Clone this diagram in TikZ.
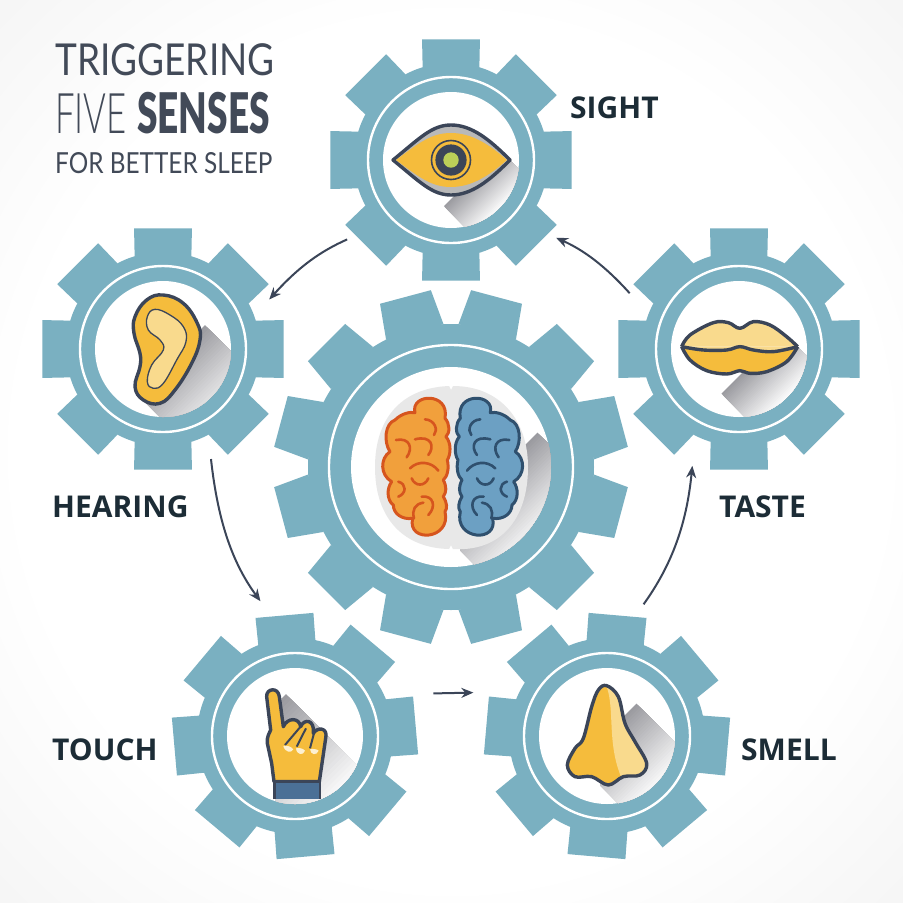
\documentclass[tikz,border=0pt]{standalone}
\usepackage{fontspec}
\usetikzlibrary{arrows.meta}
\setmainfont{Open Sans}
\newfontfamily\titlefont[FakeStretch=.84]{Lato}
\newfontfamily\thinfont[FakeStretch=.62]{Lato Light}
\newfontfamily\heavyfont[FakeStretch=.66]{Lato Black}
\definecolor{gearblue}{RGB}{122,176,193}
\definecolor{inkdark}{RGB}{59,69,88}
\definecolor{labeldark}{RGB}{28,44,54}
\definecolor{titlegrey}{RGB}{66,74,88}
\definecolor{iconyellow}{RGB}{245,188,60}
\definecolor{iconlight}{RGB}{249,218,141}
\definecolor{iconlime}{RGB}{187,207,88}
\definecolor{cuffblue}{RGB}{75,112,150}
\definecolor{brainorange}{RGB}{241,160,60}
\definecolor{brainred}{RGB}{214,85,30}
\definecolor{brainblue}{RGB}{108,160,195}
\definecolor{brainnavy}{RGB}{47,80,110}
\definecolor{bggrey}{RGB}{216,216,216}
\definecolor{shadowgrey}{RGB}{155,155,160}
\pgfdeclareradialshading{bgshade}{\pgfpoint{0bp}{0bp}}{color(0bp)=(white); color(24bp)=(white); color(71bp)=(bggrey); color(100bp)=(bggrey)}
\tikzset{
    gearnode/.style={circle, minimum size=234pt, inner sep=0pt},
    bignode/.style={circle, minimum size=354pt, inner sep=0pt},
    sense/.style={font=\bfseries\fontsize{30}{30}\selectfont, text=labeldark, anchor=base west, inner sep=0pt},
    flow/.style={-{Stealth[length=12pt,width=10pt]}, inkdark, line width=2pt},
    iconline/.style={draw=inkdark, line width=3.4pt, line join=round},
    fold/.style={line width=2.6pt, line cap=round},
    titletext/.style={anchor=base west, inner sep=0pt, text=titlegrey}
}
% one gear: x, y, turn, teeth, half tip, half root, tip r, root r, ring r
\newcommand{\gearwheel}[9]{
    \begin{scope}[shift={(#1,#2)}]
        \foreach \a in {1,...,#4} {
            \pgfmathsetmacro{\t}{#3+\a*360/#4}
            \fill[gearblue] (\t-#6:#8) -- (\t-#5:#7) -- (\t+#5:#7) -- (\t+#6:#8) -- cycle;
        }
        \fill[gearblue] (0,0) circle (#8);
        \draw[white, line width=2.4pt] (0,0) circle (#9);
    \end{scope}
}
% shadow behind an icon: disc node, disc r, polygon, start point, length
\newcommand{\iconshadow}[5]{
    \begin{scope}
        \clip (#1.center) circle (#2);
        \clip #3;
        \begin{scope}[shift={#4}, rotate=-45]
            \foreach \k in {0,...,30} {
                \pgfmathsetmacro{\p}{100-\k*100/30}
                \fill[shadowgrey!\p!white] ({\k*#5/30},-300) rectangle (300,300);
            }
        \end{scope}
    \end{scope}
}
\newcommand{\brainhalf}[2]{
    \filldraw[fill=#1, draw=#2, line width=3pt, line join=round] (165,98) .. controls (150,40) and (270,35) .. (255,115) .. controls (270,130) and (270,160) .. (258,170) .. controls (275,190) and (272,225) .. (262,240) .. controls (268,265) and (262,290) .. (250,300) .. controls (260,320) and (260,335) .. (250,350) .. controls (262,370) and (262,385) .. (255,395) .. controls (275,480) and (140,490) .. (158,415) .. controls (125,420) and (100,400) .. (100,375) .. controls (80,360) and (80,325) .. (95,305) .. controls (60,285) and (60,235) .. (90,215) .. controls (70,185) and (75,130) .. (105,120) .. controls (125,100) and (150,95) .. (165,98) -- cycle;
    \draw[fold, #2] (195,118) .. controls (225,120) and (235,150) .. (222,165);
    \draw[fold, #2] (165,178) .. controls (215,165) and (225,200) .. (205,225);
    \draw[fold, #2] (108,180) .. controls (150,172) and (160,205) .. (140,232);
    \draw[fold, #2] (150,265) .. controls (175,240) and (215,245) .. (235,272);
    \draw[fold, #2] (155,295) .. controls (165,320) and (195,320) .. (205,295);
    \draw[fold, #2] (115,305) .. controls (140,312) and (140,340) .. (115,350);
    \draw[fold, #2] (185,350) .. controls (220,345) and (230,380) .. (205,405);
    \draw[fold, #2] (190,368) .. controls (165,372) and (155,390) .. (162,415);
}
\begin{document}
\begin{tikzpicture}[x=1pt, y=-1pt]
    \useasboundingbox (0,0) rectangle (903,903);
    \shade[shading=bgshade] (0,0) rectangle (903,903);

    % Gears
    \gearwheel{451}{160}{0}{8}{13.5}{17}{124}{97}{83}
    \gearwheel{163}{349}{0}{8}{13.5}{17}{124}{97}{83}
    \gearwheel{739}{349}{0}{8}{13.5}{17}{124}{97}{83}
    \gearwheel{295}{736}{-5}{8}{13.5}{17}{124.5}{98}{83}
    \gearwheel{607}{736}{5}{8}{13.5}{17}{124.5}{98}{83}
    \gearwheel{451}{467}{15}{12}{8.5}{12}{178}{143}{122}

    \node[gearnode] (sight) at (451,160) {};
    \node[gearnode] (hearing) at (163,349) {};
    \node[gearnode] (taste) at (739,349) {};
    \node[gearnode] (touch) at (295,736) {};
    \node[gearnode] (smell) at (607,736) {};
    \node[bignode] (brain) at (451,467) {};
    \fill[white] (sight.center) circle (68);
    \fill[white] (hearing.center) circle (68);
    \fill[white] (taste.center) circle (68);
    \fill[white] (touch.center) circle (68);
    \fill[white] (smell.center) circle (68);
    \fill[white] (brain.center) circle (100);

    % Shadows
    \iconshadow{sight}{68}{(510,160) -- (590,240) -- (505,267) -- (425,187) -- cycle}{(475,175)}{42}
    \iconshadow{hearing}{68}{(183,303) -- (263,383) -- (223,480) -- (143,400) -- cycle}{(200,330)}{78}
    \iconshadow{taste}{68}{(798,347) -- (878,427) -- (770,442) -- (690,362) -- cycle}{(750,365)}{50}
    \iconshadow{touch}{68}{(282,690) -- (382,790) -- (330,850) -- (275,800) -- cycle}{(290,690)}{110}
    \iconshadow{smell}{68}{(620,687) -- (700,767) -- (680,865) -- (600,785) -- cycle}{(640,700)}{75}
    \iconshadow{brain}{100}{(520,415) -- (600,495) -- (540,630) -- (460,550) -- cycle}{(500,470)}{75}

    % Eye
    \filldraw[fill=gray!55, draw=inkdark, line width=3.4pt, line join=round] (393,160) .. controls (420,138) and (432,125) .. (451,125) .. controls (472,125) and (490,140) .. (510,160) .. controls (490,180) and (472,195) .. (451,195) .. controls (432,195) and (420,182) .. (393,160) -- cycle;
    \fill[iconyellow] (396,160) .. controls (420,142) and (432,133) .. (451,133) .. controls (472,133) and (490,145) .. (507,160) .. controls (490,175) and (472,187) .. (451,187) .. controls (432,187) and (420,178) .. (396,160) -- cycle;
    \draw[inkdark, line width=1.6pt] (451,160) circle (19.5);
    \fill[inkdark] (451,160) circle (15.6);
    \fill[iconlime] (451,160) circle (7.7);

    % Ear
    \begin{scope}[shift={(110,280)}, x=.3333pt, y=-.3333pt]
        \filldraw[fill=iconyellow, iconline] plot[smooth cycle, tension=.7] coordinates {(75,110) (110,60) (160,45) (220,70) (262,130) (270,180) (245,250) (195,330) (150,370) (100,360) (75,320) (90,260) (90,220) (72,160)};
        \filldraw[fill=iconlight, draw=inkdark, line width=1.3pt] plot[smooth cycle, tension=.7] coordinates {(112,110) (135,88) (180,105) (220,140) (228,185) (200,240) (160,310) (130,325) (112,305) (125,255) (160,210) (150,180) (115,150)};
    \end{scope}

    % Lips
    \begin{scope}[shift={(670,300)}, x=.3333pt, y=-.3333pt]
        \fill[iconlight] plot[smooth, tension=.6] coordinates {(35,140) (60,105) (130,68) (175,68) (210,85) (250,65) (300,75) (350,110) (383,140)} -- cycle;
        \fill[iconlight] (35,140) -- (383,140) -- (310,155) -- (100,150) -- cycle;
        \fill[iconyellow] plot[smooth, tension=.6] coordinates {(35,140) (100,150) (170,150) (210,140) (250,150) (310,155) (383,140)} -- plot[smooth, tension=.6] coordinates {(383,140) (350,185) (290,215) (240,220) (210,212) (170,222) (110,212) (60,180) (35,140)} -- cycle;
        \draw[iconline] plot[smooth, tension=.6] coordinates {(35,140) (60,105) (130,68) (175,68) (210,85) (250,65) (300,75) (350,110) (383,140)};
        \draw[iconline] plot[smooth, tension=.6] coordinates {(383,140) (350,185) (290,215) (240,220) (210,212) (170,222) (110,212) (60,180) (35,140)};
        \draw[iconline] plot[smooth, tension=.6] coordinates {(35,140) (100,150) (170,150) (210,140) (250,150) (310,155) (383,140)};
    \end{scope}

    % Hand
    \begin{scope}[shift={(230,680)}, x=.3333pt, y=-.3333pt]
        \filldraw[fill=iconyellow, iconline] (110,50) .. controls (108,25) and (145,20) .. (148,50) -- (160,140) .. controls (172,112) and (208,112) .. (212,140) .. controls (222,115) and (255,118) .. (250,160) .. controls (262,140) and (295,142) .. (287,175) -- (268,305) -- (132,305) -- (125,250) -- (112,190) .. controls (110,170) and (118,160) .. (122,150) -- cycle;
        \draw[inkdark, line width=2pt] (165,195) -- (210,142);
        \draw[inkdark, line width=2pt] (200,200) -- (228,145);
        \draw[inkdark, line width=2pt] (240,205) -- (252,160);
        \fill[iconlight!40!white] (160,198) .. controls (170,195) and (185,200) .. (190,208) .. controls (185,220) and (165,218) .. (160,198) -- cycle;
        \fill[iconlight!40!white] (198,205) .. controls (208,202) and (220,206) .. (225,212) .. controls (220,228) and (200,225) .. (198,205) -- cycle;
        \fill[iconlight!40!white] (240,208) .. controls (250,205) and (262,208) .. (266,212) .. controls (260,228) and (242,225) .. (240,208) -- cycle;
        \filldraw[fill=cuffblue, draw=inkdark, line width=2.4pt] (134,358) -- (134,306) -- (270,306) -- (270,358);
    \end{scope}

    % Nose
    \begin{scope}[shift={(550,670)}, x=.3333pt, y=-.3333pt]
        \fill[iconyellow] plot[smooth cycle, tension=.6] coordinates {(170,47) (205,80) (225,160) (255,215) (290,280) (270,315) (220,320) (175,345) (125,320) (75,320) (52,285) (75,235) (100,205) (125,110) (145,60)};
        \begin{scope}
            \clip plot[smooth cycle, tension=.6] coordinates {(170,47) (205,80) (225,160) (255,215) (290,280) (270,315) (220,320) (175,345) (125,320) (75,320) (52,285) (75,235) (100,205) (125,110) (145,60)};
            \fill[iconlight] (170,50) .. controls (195,120) and (170,220) .. (215,325) -- (320,325) -- (320,40) -- cycle;
        \end{scope}
        \draw[iconline] plot[smooth cycle, tension=.6] coordinates {(170,47) (205,80) (225,160) (255,215) (290,280) (270,315) (220,320) (175,345) (125,320) (75,320) (52,285) (75,235) (100,205) (125,110) (145,60)};
    \end{scope}

    % Brain
    \fill[gray!18] (449,386) .. controls (400,388) and (375,420) .. (375,467) .. controls (375,520) and (405,548) .. (449,549) -- (451,545) -- (453,549) .. controls (500,552) and (528,520) .. (528,467) .. controls (528,420) and (500,386) .. (453,386) -- (451,390) -- cycle;
    \begin{scope}[shift={(360,380)}, x=.3333pt, y=-.3333pt]
        \brainhalf{brainorange}{brainred}
    \end{scope}
    \begin{scope}[shift={(545.3,380)}, x=-.3333pt, y=-.3333pt]
        \brainhalf{brainblue}{brainnavy}
    \end{scope}

    % Arrows
    \draw[flow, shorten <=14pt] (sight.219) to[bend right=12] (hearing.25);
    \draw[flow, shorten <=3pt, shorten >=24pt] (hearing.-66) to[bend right=15] (touch.100);
    \draw[flow, shorten <=29pt, shorten >=25pt] (touch.21.6) -- (smell.158.4);
    \draw[flow, shorten <=21pt, shorten >=9pt] (smell.78) to[bend right=15] (taste.247);
    \draw[flow, shorten <=6pt, shorten >=14pt] (taste.154) to[bend right=12] (sight.-38);

    % Labels
    \node[sense] (sightlabel) at (570,118) {SIGHT};
    \node[sense] (hearinglabel) at (52,517) {HEARING};
    \node[sense] (tastelabel) at (719,517) {TASTE};
    \node[sense] (touchlabel) at (52,760) {TOUCH};
    \node[sense] (smelllabel) at (741,760) {SMELL};

    % Title
    \node[titletext, font=\titlefont\fontsize{44}{44}\selectfont] (titleone) at (55,75) {TRIGGERING};
    \node[titletext, font=\thinfont\fontsize{56}{56}\selectfont] (titletwo) at (55,133) {FIVE};
    \node[titletext, font=\heavyfont\fontsize{56}{56}\selectfont] (titlethree) at (137,133) {SENSES};
    \node[titletext, font=\titlefont\fontsize{29}{29}\selectfont] (titlefour) at (55,173) {FOR BETTER SLEEP};
\end{tikzpicture}
\end{document}
